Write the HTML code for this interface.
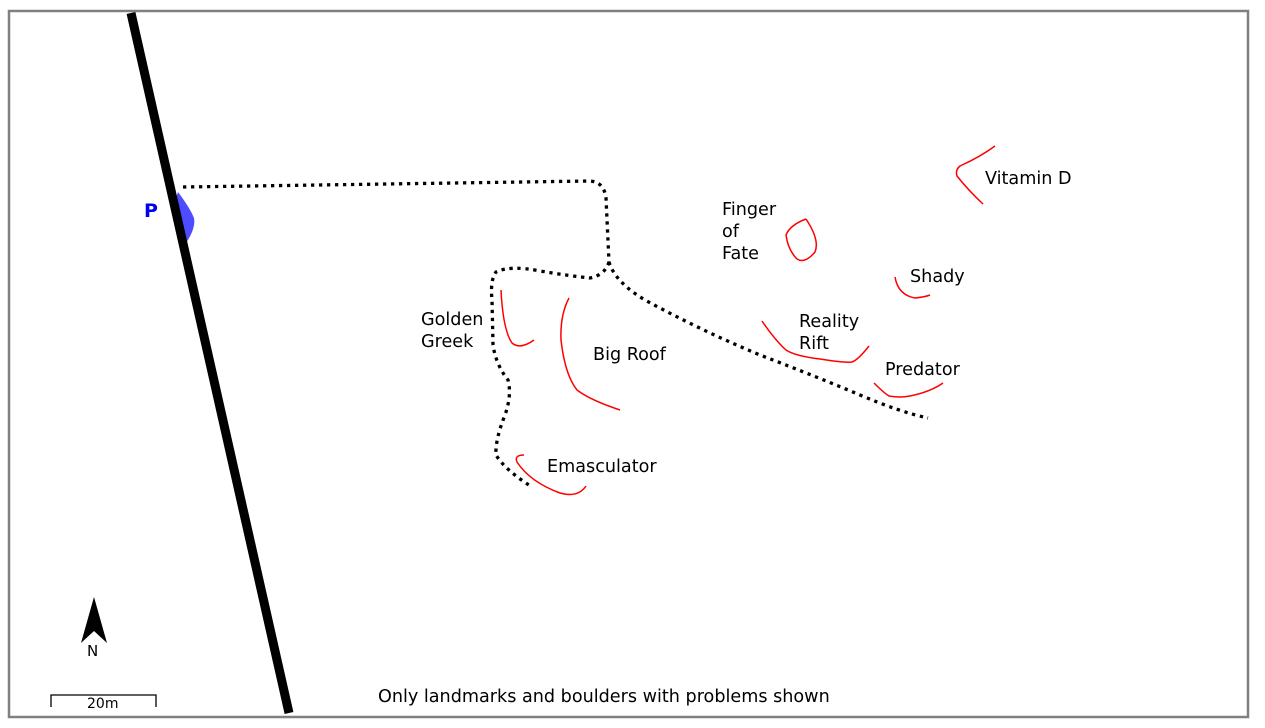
<!DOCTYPE html>
<html><head><meta charset="utf-8"><style>
html,body{margin:0;padding:0;background:#fff;}
svg{display:block;}
text{font-family:"DejaVu Sans","Liberation Sans",sans-serif;font-size:17.6px;fill:#000;}
</style></head><body>
<svg width="1265" height="728" viewBox="0 0 1265 728" xmlns="http://www.w3.org/2000/svg">
<rect x="9" y="11" width="1239" height="706" fill="#fff" stroke="#808080" stroke-width="2.5"/>
<path d="M178,192 Q190,208 194,218 Q196,228 186,243 L176,198 Z" fill="#4d4dff"/>
<line x1="131" y1="13" x2="289" y2="713" stroke="#000" stroke-width="9"/>
<text x="144" y="217" style="font-weight:bold;font-size:19px;fill:#0000ee">P</text>
<g fill="none" stroke="#000" stroke-width="3.3" stroke-dasharray="3.3 4.7">
<path d="M183,187 L590,181 Q604,182 606,198 L609,262"/>
<path d="M609,262 Q605,275 590,278 Q570,276 540,271 Q510,265 496,272 Q490,280 492,300 L493,345 Q496,365 508,380 Q512,395 505,415 Q495,440 496,455 Q505,470 532,487"/>
<path d="M609,262 Q615,282 645,300 Q700,330 760,355 Q820,378 860,395 Q900,412 928,418"/>
</g>
<g fill="none" stroke="#f00" stroke-width="1.5">
<path d="M501,290 Q503,330 512,343 Q520,350 534,340"/>
<path d="M569,298 Q560,315 561,340 Q565,375 577,390 Q590,400 620,410"/>
<path d="M524,455 Q514,455 517,462 Q530,482 560,493 Q578,498 586,486"/>
<path d="M806,219 Q790,225 786,235 Q788,250 797,259 Q805,264 815,252 Q820,240 806,219"/>
<path d="M995,146 Q980,157 960,166 Q955,170 957,176 Q968,190 983,204"/>
<path d="M895,277 Q898,295 915,298 Q925,297 930,295"/>
<path d="M762,321 Q775,340 786,350 Q795,356 820,359 Q845,363 852,362 Q858,360 869,346"/>
<path d="M874,383 Q884,393 889,396 Q900,398 910,396 Q930,392 943,383"/>
</g>
<text x="985" y="184">Vitamin D</text>
<text x="722" y="215">Finger</text>
<text x="722" y="237">of</text>
<text x="722" y="259">Fate</text>
<text x="910" y="282">Shady</text>
<text x="799" y="327">Reality</text>
<text x="799" y="349">Rift</text>
<text x="885" y="375">Predator</text>
<text x="421" y="325">Golden</text>
<text x="421" y="347">Greek</text>
<text x="593" y="360">Big Roof</text>
<text x="547" y="472">Emasculator</text>
<path d="M94,597 L107,643 L94,631 L81,643 Z" fill="#000"/>
<text x="87" y="656" style="font-size:15px">N</text>
<path d="M51,707 L51,695 L156,695 L156,707" fill="none" stroke="#000" stroke-width="1.3"/>
<text x="87" y="708" style="font-size:14px">20m</text>
<text x="378" y="702">Only landmarks and boulders with problems shown</text>
</svg>
</body></html>
